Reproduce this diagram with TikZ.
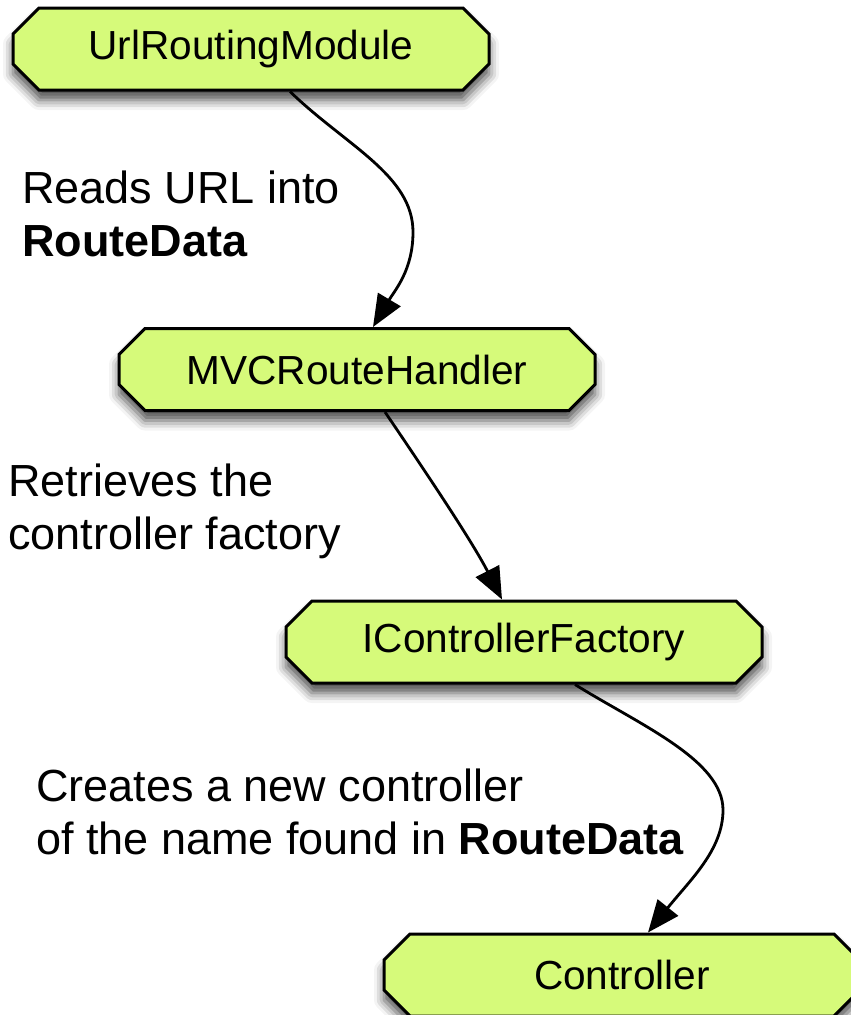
\documentclass[tikz,border=0pt]{standalone}
\usepackage{fontspec}
\setmainfont{Liberation Sans}
\usetikzlibrary{shapes.misc,arrows.meta,shadows.blur}
\definecolor{boxgreen}{RGB}{214,250,122}
\begin{document}
\begin{tikzpicture}[x=1pt,y=-1pt,
  box/.style={chamfered rectangle, chamfered rectangle sep=13pt, draw=black, line width=3pt,
    fill=boxgreen, minimum width=476pt, minimum height=82pt, inner sep=0pt,
    font=\fontsize{40.6}{48}\selectfont,
    blur shadow={shadow xshift=0pt, shadow yshift=-10pt, shadow blur radius=10pt, shadow opacity=70}},
  conn/.style={line width=2.8pt, -{Triangle[length=32pt,width=26pt]}},
  lbl/.style={anchor=north west, inner sep=0pt, align=left, font=\fontsize{45}{53}\selectfont}]
\useasboundingbox (0,0) rectangle (851,1015);
\clip (0,0) rectangle (851,1015);
\node[box] (urm) at (251,49) {UrlRoutingModule};
\node[box] (mvc) at (357,369.5) {MVCRouteHandler};
\node[box] (icf) at (524,642) {IControllerFactory};
\node[box] (ctl) at (622,975) {Controller};
\node[lbl] (l1) at (22,171) {Reads URL into\\\textbf{RouteData}};
\node[lbl] (l2) at (8,464) {Retrieves the\\controller factory};
\node[lbl] (l3) at (36,769) {Creates a new controller\\of the name found in \textbf{RouteData}};
\draw[conn] ([xshift=39pt]urm.south) .. controls (345,145) and (413,175) .. (413,232)
  .. controls (413,270) and (395,290) .. ([xshift=16pt]mvc.north);
\draw[conn] ([xshift=28pt]mvc.south) .. controls (425,471) and (472,541) .. ([xshift=-22pt]icf.north);
\draw[conn] ([xshift=51pt]icf.south) .. controls (640,725) and (723,760) .. (723,810)
  .. controls (723,850) and (690,880) .. ([xshift=26pt]ctl.north);
\end{tikzpicture}
\end{document}
